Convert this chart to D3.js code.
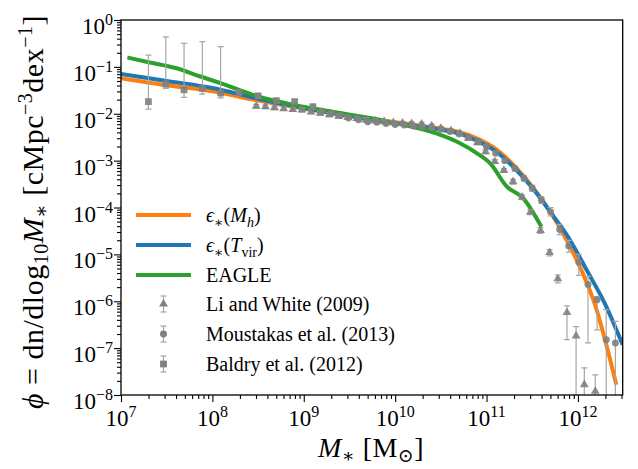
<!DOCTYPE html>
<html>
<head>
<meta charset="utf-8">
<script src="https://cdn.jsdelivr.net/npm/d3@7"></script>
<style>
  body { margin: 0; background: #fff; }
  text { font-family: "Liberation Serif", "DejaVu Serif", serif; fill: #000; }
</style>
</head>
<body>
<script>
// ---- data (log10 values) ----
// eps_*(M_h) model
const mhLogM   = [7.0, 7.5, 8.0, 8.5, 9.0, 9.5, 10.0, 10.4, 10.7, 10.9, 11.1, 11.3, 11.5, 11.7, 11.9, 12.1, 12.2, 12.3, 12.42];
const mhLogPhi = [-1.24, -1.39, -1.52, -1.72, -1.89, -2.04, -2.18, -2.29, -2.39, -2.53, -2.75, -3.10, -3.55, -4.10, -4.78, -5.62, -6.15, -6.85, -7.78];
// eps_*(T_vir) model
const tvLogM   = [7.0, 7.5, 8.0, 8.5, 9.0, 9.5, 10.0, 10.4, 10.7, 10.9, 11.1, 11.3, 11.5, 11.7, 11.9, 12.1, 12.3, 12.49];
const tvLogPhi = [-1.15, -1.30, -1.45, -1.68, -1.88, -2.05, -2.20, -2.31, -2.42, -2.58, -2.80, -3.15, -3.58, -4.10, -4.65, -5.35, -6.07, -6.93];
// EAGLE
const eaLogM   = [7.07, 7.3, 7.61, 7.86, 8.08, 8.48, 8.89, 9.3, 9.69, 10.0, 10.45, 10.71, 10.9, 11.04, 11.22, 11.40, 11.60];
const eaLogPhi = [-0.80, -0.90, -1.03, -1.20, -1.34, -1.62, -1.81, -1.95, -2.08, -2.20, -2.42, -2.63, -2.85, -3.06, -3.55, -3.80, -4.41];

// Li and White (2009): logM, logPhi, lower, upper
const liLogM   = [8.48, 8.58, 8.68, 8.78, 8.88, 8.98, 9.08, 9.18, 9.28, 9.38, 9.48, 9.58, 9.68, 9.78, 9.88, 9.98, 10.08, 10.18, 10.29, 10.40, 10.50, 10.61, 10.71, 10.80, 10.90, 10.99, 11.09, 11.19, 11.29, 11.39, 11.48, 11.59, 11.69, 11.78, 11.88, 11.98, 12.07, 12.19];
const liLogPhi = [-1.84, -1.85, -1.87, -1.89, -1.91, -1.92, -1.96, -1.99, -2.02, -2.05, -2.08, -2.10, -2.13, -2.15, -2.17, -2.19, -2.20, -2.21, -2.22, -2.26, -2.31, -2.36, -2.42, -2.52, -2.62, -2.81, -3.02, -3.21, -3.45, -3.78, -4.10, -4.49, -4.96, -5.52, -6.24, -6.74, -7.78, -7.92];
const liLo     = [-1.88, -1.89, -1.91, -1.93, -1.95, -1.96, -2.00, -2.03, -2.06, -2.09, -2.12, -2.14, -2.17, -2.19, -2.21, -2.23, -2.24, -2.25, -2.26, -2.30, -2.35, -2.40, -2.46, -2.56, -2.66, -2.85, -3.06, -3.25, -3.50, -3.83, -4.15, -4.55, -5.03, -5.61, -6.82, -9.0, -9.0, -9.0];
const liHi     = [-1.80, -1.81, -1.83, -1.85, -1.87, -1.88, -1.92, -1.95, -1.98, -2.01, -2.04, -2.06, -2.09, -2.11, -2.13, -2.15, -2.16, -2.17, -2.18, -2.22, -2.27, -2.32, -2.38, -2.48, -2.58, -2.77, -2.98, -3.17, -3.40, -3.73, -4.05, -4.43, -4.90, -5.44, -6.10, -6.54, -7.42, -7.57];

// Moustakas et al. (2013)
const moLogM   = [9.20, 9.30, 9.40, 9.49, 9.60, 9.70, 9.80, 9.90, 10.0, 10.1, 10.2, 10.3, 10.4, 10.5, 10.6, 10.7, 10.8, 10.91, 11.0, 11.10, 11.20, 11.31, 11.41, 11.50, 11.60, 11.70, 11.80, 11.90, 12.01, 12.11, 12.21, 12.31, 12.41];
const moLogPhi = [-1.95, -1.99, -2.04, -2.09, -2.13, -2.17, -2.18, -2.21, -2.23, -2.24, -2.26, -2.28, -2.30, -2.33, -2.38, -2.43, -2.50, -2.59, -2.70, -2.84, -3.00, -3.17, -3.38, -3.59, -3.84, -4.09, -4.47, -4.82, -5.17, -5.64, -5.97, -6.82, -6.89];
const moLo     = [-1.98, -2.02, -2.07, -2.12, -2.16, -2.20, -2.21, -2.24, -2.26, -2.27, -2.29, -2.31, -2.33, -2.36, -2.41, -2.46, -2.53, -2.62, -2.74, -2.88, -3.04, -3.22, -3.43, -3.65, -3.91, -4.18, -4.58, -4.95, -5.45, -6.89, -6.61, -9.0, -9.0];
const moHi     = [-1.92, -1.96, -2.01, -2.06, -2.10, -2.14, -2.15, -2.18, -2.20, -2.21, -2.23, -2.25, -2.27, -2.30, -2.35, -2.40, -2.47, -2.56, -2.66, -2.80, -2.96, -3.12, -3.33, -3.53, -3.77, -4.00, -4.36, -4.70, -5.00, -5.47, -5.90, -6.18, -6.43];

// Baldry et al. (2012)
const baLogM   = [7.30, 7.49, 7.69, 7.89, 8.09, 8.29, 8.50, 8.70, 8.90, 9.10];
const baLogPhi = [-1.74, -1.37, -1.49, -1.46, -1.56, -1.55, -1.62, -1.72, -1.74, -1.85];
const baLo     = [-1.90, -1.46, -1.65, -1.58, -1.66, -1.60, -1.67, -1.76, -1.78, -1.89];
const baHi     = [-0.75, -0.36, -0.50, -0.46, -0.57, -1.50, -1.57, -1.68, -1.70, -1.81];

const xTickExps = [7, 8, 9, 10, 11, 12];
const yTickExps = [0, -1, -2, -3, -4, -5, -6, -7, -8];

const legendLabels = [
  [{t: "ϵ", it: true}, {t: "∗", sub: true}, "(", {t: "M", it: true}, {t: "h", it: true, sub: true}, ")"],
  [{t: "ϵ", it: true}, {t: "∗", sub: true}, "(", {t: "T", it: true}, {t: "vir", sub: true}, ")"],
  ["EAGLE"],
  ["Li and White (2009)"],
  ["Moustakas et al. (2013)"],
  ["Baldry et al. (2012)"]
];

// ---- layout ----
const W = 638, H = 469;
const L = 121, R = 622.7, T = 20, B = 395;
const x = d3.scaleLog().domain([1e7, Math.pow(10, 12.49)]).range([L, R]);
const y = d3.scaleLog().domain([1e-8, 1]).range([B, T]);
const p10 = v => Math.pow(10, v);

const svg = d3.select("body").append("svg").attr("width", W).attr("height", H);

svg.append("defs").append("clipPath").attr("id", "clip")
  .append("rect").attr("x", L).attr("y", T).attr("width", R - L).attr("height", B - T);

const plot = svg.append("g").attr("clip-path", "url(#clip)");

// lines
const line = d3.line().x(d => x(p10(d[0]))).y(d => y(p10(d[1]))).curve(d3.curveMonotoneX);
const series = [
  {m: mhLogM, p: mhLogPhi, c: "#ff7f0e"},
  {m: tvLogM, p: tvLogPhi, c: "#1f77b4"},
  {m: eaLogM, p: eaLogPhi, c: "#2ca02c"}
];
series.forEach(s => {
  plot.append("path")
    .datum(s.m.map((v, i) => [v, s.p[i]]))
    .attr("fill", "none").attr("stroke", s.c).attr("stroke-width", 4)
    .attr("stroke-linejoin", "round")
    .attr("d", line);
});

// observations
const obs = [
  {m: liLogM, p: liLogPhi, lo: liLo, hi: liHi, sym: d3.symbolTriangle, size: 34},
  {m: moLogM, p: moLogPhi, lo: moLo, hi: moHi, sym: d3.symbolCircle, size: 38},
  {m: baLogM, p: baLogPhi, lo: baLo, hi: baHi, sym: d3.symbolSquare, size: 46}
];
const gray = "#808080", barGray = "#a6a6a6";
obs.forEach(o => {
  const g = plot.append("g");
  const pts = o.m.map((v, i) => ({m: v, p: o.p[i], lo: o.lo[i], hi: o.hi[i]}));
  g.selectAll("line.bar").data(pts).join("line").attr("class", "bar")
    .attr("x1", d => x(p10(d.m))).attr("x2", d => x(p10(d.m)))
    .attr("y1", d => y(p10(d.lo))).attr("y2", d => y(p10(d.hi)))
    .attr("stroke", barGray).attr("stroke-width", 1.2);
  ["lo", "hi"].forEach(k => {
    g.selectAll("line.cap" + k).data(pts).join("line").attr("class", "cap" + k)
      .attr("x1", d => x(p10(d.m)) - 3).attr("x2", d => x(p10(d.m)) + 3)
      .attr("y1", d => y(p10(d[k]))).attr("y2", d => y(p10(d[k])))
      .attr("stroke", barGray).attr("stroke-width", 1.2);
  });
  g.selectAll("path").data(pts).join("path")
    .attr("transform", d => `translate(${x(p10(d.m))},${y(p10(d.p))})`)
    .attr("d", d3.symbol().type(o.sym).size(o.size))
    .attr("fill", gray).attr("fill-opacity", 0.9);
});

// ---- axes ----
const minor = (lo, hi) => {
  const out = [];
  for (let e = lo; e <= hi; e++) for (let k = 2; k <= 9; k++) out.push(k * Math.pow(10, e));
  return out;
};
const xMinor = minor(7, 12).filter(v => v <= x.domain()[1]);
const yMinor = minor(-8, -1);

const xAx = svg.append("g").attr("transform", `translate(0,${B})`);
xAx.call(d3.axisBottom(x).tickValues(xTickExps.map(p10)).tickSize(7).tickFormat(""));
xAx.append("g").call(d3.axisBottom(x).tickValues(xMinor).tickSize(4).tickFormat(""));
const yAx = svg.append("g").attr("transform", `translate(${L},0)`);
yAx.call(d3.axisLeft(y).tickValues(yTickExps.map(p10)).tickSize(7).tickFormat(""));
yAx.append("g").call(d3.axisLeft(y).tickValues(yMinor).tickSize(4).tickFormat(""));
svg.selectAll(".domain").remove();
svg.selectAll(".tick line").attr("stroke", "#000").attr("stroke-width", 1.1);

// frame
svg.append("rect").attr("x", L).attr("y", T).attr("width", R - L).attr("height", B - T)
  .attr("fill", "none").attr("stroke", "#000").attr("stroke-width", 1.3);

// tick labels
const tickFs = 23, supFs = 16;
xTickExps.forEach(e => {
  const t = svg.append("text").attr("x", x(p10(e))).attr("y", B + 31)
    .attr("text-anchor", "middle").style("font-size", tickFs + "px");
  t.append("tspan").text("10");
  t.append("tspan").attr("dy", -9).style("font-size", supFs + "px").text(String(e));
});
yTickExps.forEach(e => {
  const t = svg.append("text").attr("x", 113).attr("y", y(p10(e)) + 14)
    .attr("text-anchor", "end").style("font-size", tickFs + "px");
  t.append("tspan").text("10");
  t.append("tspan").attr("dy", -9).style("font-size", supFs + "px")
    .text(e === 0 ? "0" : "−" + Math.abs(e));
});

// axis titles
const xt = svg.append("text").attr("x", 371).attr("y", 457).attr("text-anchor", "middle")
  .style("font-size", "28px").style("letter-spacing", "0.5px");
xt.append("tspan").style("font-style", "italic").text("M");
xt.append("tspan").attr("dy", 5).style("font-size", "19px").text("∗");
xt.append("tspan").attr("dy", -5).text(" [M");
xt.append("tspan").attr("dy", 5).style("font-size", "19px").text("⊙");
xt.append("tspan").attr("dy", -5).text("]");

const yt = svg.append("text").attr("transform", "translate(43,212) rotate(-90)")
  .attr("text-anchor", "middle").style("font-size", "30px").style("letter-spacing", "0.5px");
yt.append("tspan").style("font-style", "italic").text("ϕ");
yt.append("tspan").text(" = dn/dlog");
yt.append("tspan").attr("dy", 5).style("font-size", "20px").text("10");
yt.append("tspan").attr("dy", -5).style("font-style", "italic").text("M");
yt.append("tspan").attr("dy", 5).style("font-size", "20px").text("∗");
yt.append("tspan").attr("dy", -5).text(" [cMpc");
yt.append("tspan").attr("dy", -11).style("font-size", "20px").text("−3");
yt.append("tspan").attr("dy", 11).text("dex");
yt.append("tspan").attr("dy", -11).style("font-size", "20px").text("−1");
yt.append("tspan").attr("dy", 11).text("]");

// ---- legend ----
const legY = [215, 245, 275, 304, 334, 364];
const lg = svg.append("g");
series.forEach((s, i) => {
  lg.append("line").attr("x1", 136).attr("x2", 191).attr("y1", legY[i]).attr("y2", legY[i])
    .attr("stroke", s.c).attr("stroke-width", 4);
});
obs.forEach((o, i) => {
  const cy = legY[i + 3];
  lg.append("line").attr("x1", 163.5).attr("x2", 163.5).attr("y1", cy - 8).attr("y2", cy + 8)
    .attr("stroke", barGray).attr("stroke-width", 1.2);
  [cy - 8, cy + 8].forEach(yy => lg.append("line").attr("x1", 160.5).attr("x2", 166.5)
    .attr("y1", yy).attr("y2", yy).attr("stroke", barGray).attr("stroke-width", 1.2));
  lg.append("path").attr("transform", `translate(163.5,${cy})`)
    .attr("d", d3.symbol().type(o.sym).size(o.size)).attr("fill", gray);
});
legendLabels.forEach((parts, i) => {
  const t = lg.append("text").attr("x", 206).attr("y", legY[i] + 7).style("font-size", "20px");
  let shift = 0;
  parts.forEach(p => {
    const o = typeof p === "string" ? {t: p} : p;
    const want = o.sub ? 5 : 0;
    const ts = t.append("tspan").attr("dy", want - shift).text(o.t);
    shift = want;
    if (o.it) ts.style("font-style", "italic");
    if (o.sub) ts.style("font-size", "14px");
  });
});
</script>
</body>
</html>
